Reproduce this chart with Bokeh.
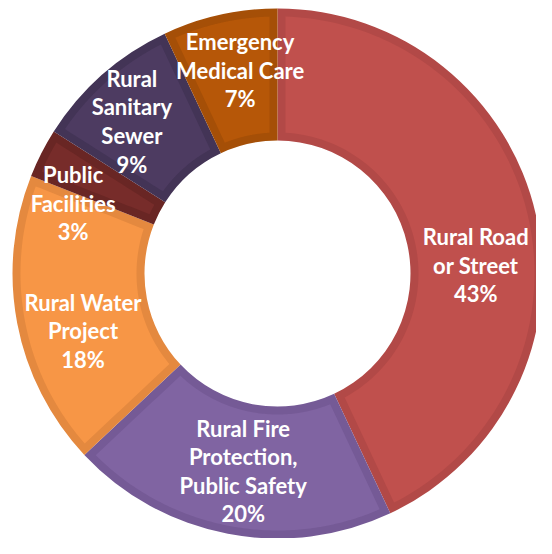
import numpy as np
from bokeh.plotting import figure
from bokeh.models import Range1d, ColumnDataSource
from bokeh.core.properties import value
from bokeh.embed import file_html
from bokeh.resources import INLINE

# ---- data ----
categories = ["Rural Road\nor Street", "Rural Fire\nProtection,\nPublic Safety",
              "Rural Water\nProject", "Public\nFacilities", "Rural\nSanitary\nSewer",
              "Emergency\nMedical Care"]
shares = [43, 20, 18, 3, 9, 7]

# ---- styles ----
fills = ["#C0504D", "#8064A2", "#F79646", "#772C2A", "#4D3B61", "#B65708"]
bands = ["#B24947", "#755A96", "#E4893F", "#692624", "#433456", "#A54F07"]
# label nudges in px (x, y) relative to mid-ring anchor
nudges = [(4, -35), (3, -2), (1, -20), (-27, -20), (-14, 3), (6, 9)]

W, H = 536, 538
cx, cy = 277, 273  # centre in frame pixels from left/top
R_out, R_in = 265, 133
band = 8

p = figure(width=W, height=H, output_backend="svg", toolbar_location=None,
           x_range=Range1d(-cx, W - cx), y_range=Range1d(-(H - cy), cy),
           min_border=0)
p.axis.visible = False
p.grid.visible = False
p.outline_line_color = None
p.background_fill_color = "white"
p.border_fill_color = "white"

vals = np.array(shares, dtype=float)
frac = vals / vals.sum()
cum_end = np.cumsum(frac)
cum_start = cum_end - frac
start_ang = np.pi / 2 - cum_end * 2 * np.pi
end_ang = np.pi / 2 - cum_start * 2 * np.pi

src = ColumnDataSource(dict(start=start_ang, end=end_ang, color=bands))
p.annular_wedge(x=0, y=0, inner_radius=R_in, outer_radius=R_out,
                start_angle="start", end_angle="end", fill_color="color",
                line_color=None, source=src)

xs, ys = [], []
ro, ri = R_out - band, R_in + band
for a0, a1 in zip(start_ang, end_ang):
    t_out = np.linspace(a0 + np.arcsin(band / ro), a1 - np.arcsin(band / ro), 120)
    rho_down = np.linspace(ro, ri, 30)
    t_side1 = a1 - np.arcsin(band / rho_down)
    t_in = np.linspace(a1 - np.arcsin(band / ri), a0 + np.arcsin(band / ri), 80)
    rho_up = np.linspace(ri, ro, 30)
    t_side0 = a0 + np.arcsin(band / rho_up)
    px = np.concatenate([ro * np.cos(t_out), rho_down * np.cos(t_side1),
                         ri * np.cos(t_in), rho_up * np.cos(t_side0)])
    py = np.concatenate([ro * np.sin(t_out), rho_down * np.sin(t_side1),
                         ri * np.sin(t_in), rho_up * np.sin(t_side0)])
    xs.append(px.tolist())
    ys.append(py.tolist())
p.patches(xs=xs, ys=ys, fill_color=fills, line_color=None)

mid = (start_ang + end_ang) / 2
r_lab = (R_out + R_in) / 2
lx = r_lab * np.cos(mid) + np.array([n[0] for n in nudges])
ly = r_lab * np.sin(mid) + np.array([n[1] for n in nudges])
labels = [f"{c}\n{s}%" for c, s in zip(categories, shares)]
p.text(x=lx, y=ly, text=labels, text_color="white", text_font=value("Lato"),
       text_font_style="bold", text_font_size="22px", text_align="center",
       text_baseline="middle", text_line_height=1.06)

open("out.html", "w").write(file_html(p, INLINE))
